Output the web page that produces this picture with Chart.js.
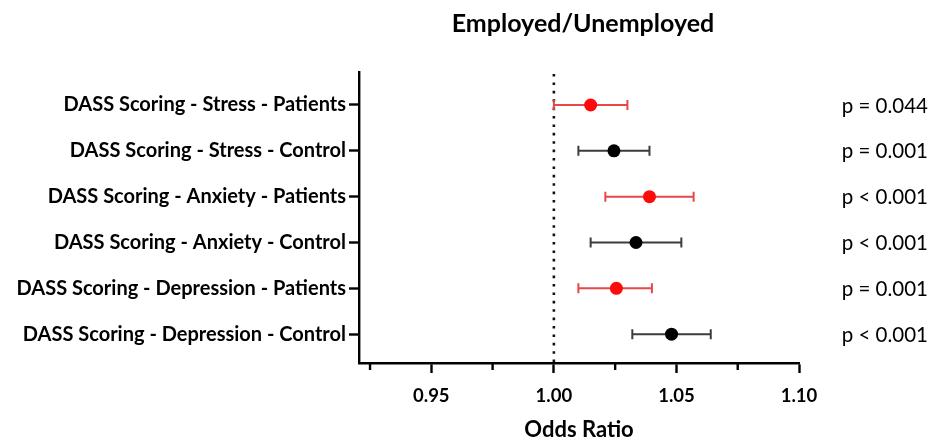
<!DOCTYPE html>
<html>
<head>
<meta charset="utf-8">
<script src="https://cdn.jsdelivr.net/npm/chart.js@4.4.1/dist/chart.umd.min.js"></script>
<style>
  html, body { margin: 0; padding: 0; background: #fff; }
  #wrap { width: 934px; height: 438px; }
</style>
</head>
<body>
<div id="wrap"><canvas id="chart" width="934" height="438"></canvas></div>
<script>
// Forest plot: odds ratios with 95% CI, employed vs unemployed
const categories = [
  'DASS Scoring - Stress - Patients',
  'DASS Scoring - Stress - Control',
  'DASS Scoring - Anxiety - Patients',
  'DASS Scoring - Anxiety - Control',
  'DASS Scoring - Depression - Patients',
  'DASS Scoring - Depression - Control'
];
const oddsRatio = [1.015, 1.0245, 1.039, 1.0335, 1.0255, 1.048];
const ciLower   = [1.000, 1.010, 1.021, 1.015, 1.010, 1.032];
const ciUpper   = [1.030, 1.039, 1.057, 1.052, 1.040, 1.064];
const pValues   = ['p = 0.044', 'p = 0.001', 'p < 0.001', 'p < 0.001', 'p = 0.001', 'p < 0.001'];
const group     = ['Patients', 'Control', 'Patients', 'Control', 'Patients', 'Control'];
const xMajorTicks = [0.95, 1.00, 1.05, 1.10];
const xMinorTicks = [0.925, 0.975, 1.025, 1.075];
const referenceValue = 1.00;

const markColor  = g => g === 'Patients' ? '#ff0a0a' : '#000000';
const whiskColor = g => g === 'Patients' ? '#e8474a' : '#3c3c3c';

const FONT = 'Lato, "Open Sans", sans-serif';

const forestPlugin = {
  id: 'forest',
  beforeDatasetsDraw(chart) {
    const { ctx, chartArea, scales: { x, y } } = chart;
    ctx.save();
    // reference line at OR = 1
    const xr = x.getPixelForValue(referenceValue);
    ctx.strokeStyle = '#111';
    ctx.lineWidth = 2.6;
    ctx.lineCap = 'butt';
    ctx.setLineDash([2.6, 5.8]);
    ctx.beginPath();
    ctx.moveTo(xr, chartArea.top + 2);
    ctx.lineTo(xr, chartArea.bottom);
    ctx.stroke();
    ctx.setLineDash([]);
    // confidence interval whiskers with caps
    ctx.lineWidth = 2;
    categories.forEach((c, i) => {
      const py = y.getPixelForValue(i);
      const x0 = x.getPixelForValue(ciLower[i]);
      const x1 = x.getPixelForValue(ciUpper[i]);
      ctx.strokeStyle = whiskColor(group[i]);
      ctx.beginPath();
      ctx.moveTo(x0, py); ctx.lineTo(x1, py);
      ctx.moveTo(x0, py - 5); ctx.lineTo(x0, py + 5);
      ctx.moveTo(x1, py - 5); ctx.lineTo(x1, py + 5);
      ctx.stroke();
    });
    ctx.restore();
  },
  afterDraw(chart) {
    const { ctx, chartArea, scales: { x, y } } = chart;
    ctx.save();
    // minor x ticks
    ctx.strokeStyle = '#000';
    ctx.lineWidth = 2.4;
    xMinorTicks.forEach(v => {
      const px = x.getPixelForValue(v);
      ctx.beginPath();
      ctx.moveTo(px, chartArea.bottom);
      ctx.lineTo(px, chartArea.bottom + 7);
      ctx.stroke();
    });
    // p-values on the right
    ctx.fillStyle = '#000';
    ctx.font = '20.5px ' + FONT;
    ctx.textAlign = 'right';
    ctx.textBaseline = 'middle';
    pValues.forEach((p, i) => {
      ctx.fillText(p, chartArea.right + 129, y.getPixelForValue(i) + 1);
    });
    // title
    ctx.font = 'bold 25px ' + FONT;
    ctx.textAlign = 'center';
    ctx.fillText('Employed/Unemployed', (chartArea.left + chartArea.right) / 2 + 4, 24);
    ctx.restore();
  }
};

new Chart(document.getElementById('chart'), {
  type: 'scatter',
  data: {
    datasets: [{
      data: oddsRatio.map((v, i) => ({ x: v, y: i })),
      pointRadius: 6.5,
      pointHoverRadius: 6.5,
      pointBackgroundColor: group.map(markColor),
      pointBorderWidth: 0
    }]
  },
  options: {
    responsive: false,
    animation: false,
    layout: { padding: { top: 72, right: 135, left: 0, bottom: 0 } },
    plugins: { legend: { display: false }, tooltip: { enabled: false } },
    scales: {
      x: {
        type: 'linear',
        min: 0.9205,
        max: 1.10,
        afterBuildTicks: s => { s.ticks = xMajorTicks.map(v => ({ value: v })); },
        afterFit: s => { s.height = 75; },
        border: { display: true, color: '#000', width: 2.4 },
        grid: { drawOnChartArea: false, drawTicks: true, tickLength: 10, tickWidth: 2.4, tickColor: '#000' },
        ticks: {
          padding: 12,
          color: '#000',
          font: { family: FONT, size: 18.5, weight: 'bold' },
          callback: v => v.toFixed(2),
          maxRotation: 0
        },
        title: {
          display: true,
          text: 'Odds Ratio',
          color: '#000',
          font: { family: FONT, size: 22, weight: 'bold' },
          padding: { top: 0, bottom: -5 }
        }
      },
      y: {
        type: 'linear',
        reverse: true,
        min: -0.72,
        max: 5.63,
        afterBuildTicks: s => { s.ticks = categories.map((c, i) => ({ value: i })); },
        afterFit: s => { s.width = 359; },
        border: { display: true, color: '#000', width: 2.4 },
        grid: { drawOnChartArea: false, drawTicks: true, tickLength: 10, tickWidth: 2.4, tickColor: '#000' },
        ticks: {
          padding: 3,
          color: '#000',
          font: { family: FONT, size: 20, weight: 'bold' },
          callback: (v) => categories[v] ?? ''
        }
      }
    }
  },
  plugins: [forestPlugin]
});
</script>
</body>
</html>
